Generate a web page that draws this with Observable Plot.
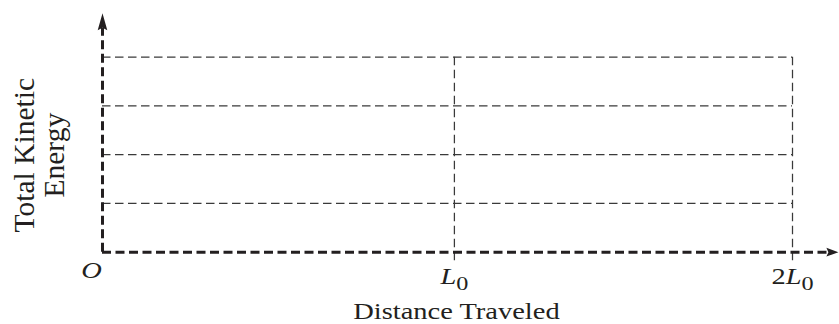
<!DOCTYPE html>
<html><head><meta charset="utf-8">
<script src="https://cdn.jsdelivr.net/npm/d3@7"></script>
<script src="https://cdn.jsdelivr.net/npm/@observablehq/plot@0.6"></script>
<style>html,body{margin:0;padding:0;background:#fff} svg{display:block}</style>
</head><body><div id="chart"></div>
<script>
// ---- data ----
const gridLevels = [1, 2, 3, 4];          // horizontal dashed guide lines (energy units)
const markerPositions = [1.02, 2];        // vertical dashed guide lines at L0 and 2L0
const xTickValues = [1.02, 2];
const xTickPre = ["", "2"];
const xTickMain = ["L", "L"];
const xTickSub = ["0", "0"];
const originLabel = "O";
const xAxisEnd = 2.1, xArrowTip = 2.133;  // x-axis extent
const yAxisEnd = 4.59, yArrowTip = 4.9;   // y-axis extent
const gridRight = 2, gridTop = 4, markerBottom = -0.22;
const xLabel = "Distance Traveled";
const yLabel = ["Total Kinetic", "Energy"];

const ink = "#231f20";
const serif = "Liberation Serif, Times New Roman, serif";

const upArrow = {draw(ctx) { ctx.moveTo(0, 0); ctx.lineTo(4.8, 17); ctx.lineTo(0, 14.5); ctx.lineTo(-4.8, 17); ctx.closePath(); }};
const rightArrow = {draw(ctx) { ctx.moveTo(0, 0); ctx.lineTo(-12, -4.4); ctx.lineTo(-10, 0); ctx.lineTo(-12, 4.4); ctx.closePath(); }};

const ticks = xTickValues.map((v, i) => ({v, pre: xTickPre[i], main: xTickMain[i], sub: xTickSub[i]}));
const tickText = d => d.pre + d.main + d.sub;

const plot = Plot.plot({
  width: 839, height: 324, margin: 0,
  x: {domain: [0, 2], range: [102, 792], axis: null},
  y: {domain: [0, 4], range: [251.7, 56.7], axis: null},
  marks: [
    Plot.ruleY(gridLevels, {x1: 0, x2: gridRight, stroke: "#3a3a3a", strokeWidth: 1.25, strokeDasharray: "8.5,4.5"}),
    Plot.ruleX(markerPositions, {y1: gridTop, y2: markerBottom, stroke: "#3a3a3a", strokeWidth: 1.25, strokeDasharray: "8.5,4.5"}),
    Plot.ruleX([0], {y1: 0, y2: yAxisEnd, stroke: ink, strokeWidth: 3, strokeDasharray: "9,4.5"}),
    Plot.ruleY([0], {x1: 0, x2: xAxisEnd, stroke: ink, strokeWidth: 3, strokeDasharray: "9,4.5"}),
    Plot.dot([{x: 0, y: yArrowTip}], {x: "x", y: "y", symbol: upArrow, fill: ink, stroke: "none"}),
    Plot.dot([{x: xArrowTip, y: 0}], {x: "x", y: "y", symbol: rightArrow, fill: ink, stroke: "none"}),
    Plot.text(ticks, {x: "v", text: tickText, frameAnchor: "bottom", dy: -41, lineAnchor: "bottom",
      textAnchor: "middle", fontSize: 28.5, fontFamily: serif, fill: ink}),
    Plot.text([originLabel], {x: 0, text: d => d, frameAnchor: "bottom", dx: -11, dy: -47, lineAnchor: "bottom",
      textAnchor: "middle", fontSize: 28.5, fontStyle: "italic", fontFamily: serif, fill: ink}),
    Plot.text([xLabel], {x: markerPositions[0], text: d => d, frameAnchor: "bottom", dx: 2, dy: -6, lineAnchor: "bottom",
      textAnchor: "middle", fontSize: 28.5, fontFamily: serif, fill: ink}),
    Plot.text([yLabel.join("\n")], {text: d => d, frameAnchor: "left", dx: 63, dy: -7.3, rotate: -90, lineAnchor: "bottom",
      lineHeight: 1.007, textAnchor: "middle", fontSize: 29.5, fontFamily: serif, fill: ink})
  ]
});

const ns = "http://www.w3.org/2000/svg";
const tickByText = new Map(ticks.map(d => [tickText(d), d]));
const horizontal = new Set([originLabel, xLabel, ...tickByText.keys()]);
plot.querySelectorAll("text").forEach(t => {
  const s = t.textContent;
  if (!horizontal.has(s)) return;
  const d = tickByText.get(s);
  if (d) {
    t.textContent = "";
    if (d.pre) { const p = document.createElementNS(ns, "tspan"); p.textContent = d.pre; t.appendChild(p); }
    const m = document.createElementNS(ns, "tspan"); m.textContent = d.main; m.setAttribute("font-style", "italic"); t.appendChild(m);
    if (d.sub) { const b = document.createElementNS(ns, "tspan"); b.textContent = d.sub; b.setAttribute("font-size", "0.85em"); b.setAttribute("dy", "0.36em"); t.appendChild(b); }
  }
  // the reference's horizontal lettering is vertically compressed
  t.setAttribute("transform", (t.getAttribute("transform") || "") + " scale(1,0.8)");
});

document.getElementById("chart").appendChild(plot);
</script>
</body></html>
